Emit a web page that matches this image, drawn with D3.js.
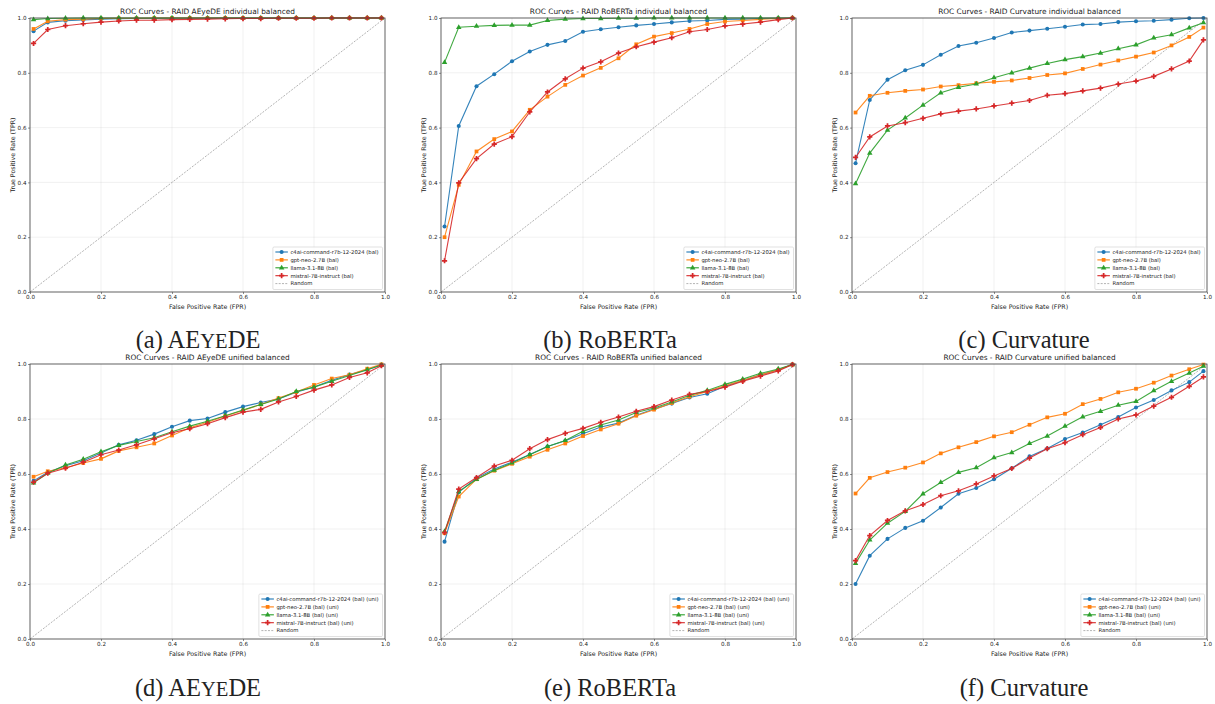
<!DOCTYPE html>
<html>
<head>
<meta charset="utf-8">
<script src="https://cdn.jsdelivr.net/npm/d3@7"></script>
<style>
  body { margin: 0; background: #fff; }
  svg text { font-family: "DejaVu Sans", sans-serif; fill: #222; }
</style>
</head>
<body>
<svg id="fig" width="1215" height="704"></svg>
<script>
// false positive rate grid shared by every curve
const fpr = [0.01, 0.05, 0.10, 0.15, 0.20, 0.25, 0.30, 0.35, 0.40, 0.45, 0.50,
             0.55, 0.60, 0.65, 0.70, 0.75, 0.80, 0.85, 0.90, 0.95, 0.99];

const modelNames = ["c4ai-command-r7b-12-2024", "gpt-neo-2.7B", "llama-3.1-8B", "mistral-7B-instruct"];
const tickValues = [0, 0.2, 0.4, 0.6, 0.8, 1.0];

// (a) AEyeDE individual
const aeyedeIndC4ai    = [0.952, 0.984, 0.990, 0.993, 0.996, 0.997, 0.998, 0.998, 0.999, 0.999, 0.999, 1, 1, 1, 1, 1, 1, 1, 1, 1, 1];
const aeyedeIndGptNeo  = [0.960, 0.988, 0.994, 0.996, 0.998, 0.999, 0.999, 1, 1, 1, 1, 1, 1, 1, 1, 1, 1, 1, 1, 1, 1];
const aeyedeIndLlama   = [0.994, 0.998, 0.999, 1, 1, 1, 1, 1, 1, 1, 1, 1, 1, 1, 1, 1, 1, 1, 1, 1, 1];
const aeyedeIndMistral = [0.907, 0.958, 0.972, 0.979, 0.985, 0.989, 0.992, 0.992, 0.994, 0.995, 0.996, 0.997, 0.998, 0.998, 0.999, 0.999, 0.999, 1, 1, 1, 1];

// (b) RoBERTa individual
const robertaIndC4ai    = [0.239, 0.606, 0.751, 0.795, 0.842, 0.878, 0.902, 0.916, 0.950, 0.959, 0.966, 0.973, 0.978, 0.984, 0.989, 0.991, 0.995, 0.996, 0.998, 0.999, 1];
const robertaIndGptNeo  = [0.200, 0.391, 0.513, 0.558, 0.586, 0.665, 0.713, 0.756, 0.790, 0.818, 0.853, 0.904, 0.932, 0.945, 0.960, 0.978, 0.987, 0.991, 0.995, 0.998, 1];
const robertaIndLlama   = [0.838, 0.966, 0.970, 0.973, 0.974, 0.974, 0.991, 0.996, 0.998, 0.998, 0.999, 0.999, 1, 1, 1, 1, 1, 1, 1, 1, 1];
const robertaIndMistral = [0.114, 0.398, 0.487, 0.540, 0.567, 0.657, 0.730, 0.778, 0.817, 0.840, 0.872, 0.895, 0.912, 0.928, 0.950, 0.958, 0.971, 0.978, 0.985, 0.994, 1];

// (c) Curvature individual
const curvIndC4ai    = [0.470, 0.701, 0.775, 0.809, 0.829, 0.866, 0.898, 0.910, 0.927, 0.947, 0.954, 0.961, 0.968, 0.976, 0.978, 0.985, 0.988, 0.990, 0.994, 0.999, 1];
const curvIndGptNeo  = [0.655, 0.716, 0.727, 0.734, 0.739, 0.750, 0.755, 0.762, 0.767, 0.772, 0.781, 0.792, 0.798, 0.814, 0.830, 0.845, 0.859, 0.874, 0.900, 0.931, 0.965];
const curvIndLlama   = [0.395, 0.507, 0.591, 0.635, 0.682, 0.727, 0.747, 0.759, 0.782, 0.800, 0.817, 0.834, 0.848, 0.859, 0.872, 0.888, 0.902, 0.927, 0.939, 0.964, 0.983];
const curvIndMistral = [0.491, 0.566, 0.606, 0.618, 0.634, 0.650, 0.660, 0.668, 0.679, 0.689, 0.699, 0.718, 0.724, 0.734, 0.744, 0.759, 0.770, 0.787, 0.814, 0.843, 0.920];

// (d) AEyeDE unified
const aeyedeUniC4ai    = [0.575, 0.606, 0.630, 0.648, 0.676, 0.706, 0.723, 0.745, 0.772, 0.794, 0.802, 0.825, 0.845, 0.860, 0.873, 0.897, 0.916, 0.941, 0.962, 0.979, 0.996];
const aeyedeUniGptNeo  = [0.590, 0.610, 0.623, 0.640, 0.655, 0.684, 0.697, 0.711, 0.740, 0.768, 0.788, 0.811, 0.831, 0.853, 0.876, 0.898, 0.924, 0.947, 0.961, 0.983, 0.999];
const aeyedeUniLlama   = [0.568, 0.603, 0.633, 0.654, 0.681, 0.704, 0.718, 0.732, 0.754, 0.774, 0.792, 0.812, 0.833, 0.853, 0.873, 0.900, 0.916, 0.937, 0.958, 0.979, 0.996];
const aeyedeUniMistral = [0.570, 0.603, 0.621, 0.643, 0.670, 0.687, 0.706, 0.728, 0.750, 0.765, 0.783, 0.805, 0.825, 0.835, 0.862, 0.882, 0.905, 0.924, 0.951, 0.968, 0.994];

// (e) RoBERTa unified
const robertaUniC4ai    = [0.354, 0.534, 0.585, 0.618, 0.643, 0.671, 0.700, 0.721, 0.746, 0.771, 0.785, 0.814, 0.836, 0.856, 0.878, 0.892, 0.919, 0.939, 0.961, 0.979, 0.998];
const robertaUniGptNeo  = [0.385, 0.518, 0.581, 0.612, 0.637, 0.663, 0.688, 0.711, 0.738, 0.762, 0.783, 0.812, 0.834, 0.858, 0.881, 0.900, 0.922, 0.940, 0.961, 0.979, 0.998];
const robertaUniLlama   = [0.391, 0.536, 0.580, 0.614, 0.640, 0.670, 0.700, 0.722, 0.755, 0.778, 0.796, 0.824, 0.840, 0.862, 0.886, 0.904, 0.926, 0.945, 0.966, 0.982, 0.998];
const robertaUniMistral = [0.387, 0.545, 0.587, 0.629, 0.650, 0.692, 0.725, 0.748, 0.766, 0.788, 0.807, 0.828, 0.845, 0.869, 0.890, 0.900, 0.916, 0.937, 0.956, 0.975, 0.998];

// (f) Curvature unified
const curvUniC4ai    = [0.200, 0.303, 0.364, 0.404, 0.430, 0.478, 0.528, 0.549, 0.581, 0.621, 0.664, 0.693, 0.727, 0.751, 0.779, 0.807, 0.842, 0.869, 0.904, 0.934, 0.974];
const curvUniGptNeo  = [0.529, 0.586, 0.607, 0.623, 0.642, 0.675, 0.697, 0.716, 0.737, 0.752, 0.779, 0.806, 0.819, 0.854, 0.873, 0.897, 0.910, 0.932, 0.958, 0.981, 0.998];
const curvUniLlama   = [0.275, 0.360, 0.421, 0.464, 0.528, 0.569, 0.606, 0.623, 0.659, 0.678, 0.711, 0.738, 0.774, 0.808, 0.828, 0.850, 0.864, 0.903, 0.937, 0.967, 0.992];
const curvUniMistral = [0.285, 0.376, 0.431, 0.466, 0.489, 0.521, 0.539, 0.564, 0.593, 0.620, 0.658, 0.692, 0.714, 0.743, 0.769, 0.800, 0.815, 0.847, 0.879, 0.919, 0.953];

const colors = ["#1f77b4", "#ff7f0e", "#2ca02c", "#d62728"];
const symbols = [d3.symbolCircle, d3.symbolSquare, d3.symbolTriangle, d3.symbolCross];
const symbolSizes = [13, 14, 13, 15];

// panel boxes: [left, right] per column, [top, bottom] per row
const cols = [[30, 385], [441, 796], [852, 1207]];
const rows = [[18, 292], [364, 639]];

const panels = [
  { title: "ROC Curves - RAID AEyeDE individual balanced", col: 0, row: 0, suffix: " (bal)",
    series: [aeyedeIndC4ai, aeyedeIndGptNeo, aeyedeIndLlama, aeyedeIndMistral],
    caption: [["(a) AE", 1], ["YE", 0.84], ["DE", 1]] },
  { title: "ROC Curves - RAID RoBERTa individual balanced", col: 1, row: 0, suffix: " (bal)",
    series: [robertaIndC4ai, robertaIndGptNeo, robertaIndLlama, robertaIndMistral],
    caption: [["(b) RoBERTa", 1]] },
  { title: "ROC Curves - RAID Curvature individual balanced", col: 2, row: 0, suffix: " (bal)",
    series: [curvIndC4ai, curvIndGptNeo, curvIndLlama, curvIndMistral],
    caption: [["(c) Curvature", 1]] },
  { title: "ROC Curves - RAID AEyeDE unified balanced", col: 0, row: 1, suffix: " (bal) (uni)",
    series: [aeyedeUniC4ai, aeyedeUniGptNeo, aeyedeUniLlama, aeyedeUniMistral],
    caption: [["(d) AE", 1], ["YE", 0.84], ["DE", 1]] },
  { title: "ROC Curves - RAID RoBERTa unified balanced", col: 1, row: 1, suffix: " (bal) (uni)",
    series: [robertaUniC4ai, robertaUniGptNeo, robertaUniLlama, robertaUniMistral],
    caption: [["(e) RoBERTa", 1]] },
  { title: "ROC Curves - RAID Curvature unified balanced", col: 2, row: 1, suffix: " (bal) (uni)",
    series: [curvUniC4ai, curvUniGptNeo, curvUniLlama, curvUniMistral],
    caption: [["(f) Curvature", 1]] }
];

const captionCenters = [198, 610, 1024];
const captionBaselines = [348, 696];
const captionSize = 24.5;

const svg = d3.select("#fig");

const drawPanel = (p) => {
  const [x0, x1] = cols[p.col];
  const [y0, y1] = rows[p.row];

  const x = d3.scaleLinear().domain([0, 1]).range([x0, x1]);
  const y = d3.scaleLinear().domain([0, 1]).range([y1, y0]);

  const g = svg.append("g");

  // grid
  g.selectAll(".gx").data(tickValues).enter().append("line")
    .attr("x1", d => x(d)).attr("x2", d => x(d))
    .attr("y1", y0).attr("y2", y1)
    .attr("stroke", "#b0b0b0").attr("stroke-opacity", 0.3).attr("stroke-width", 0.6);
  g.selectAll(".gy").data(tickValues).enter().append("line")
    .attr("x1", x0).attr("x2", x1)
    .attr("y1", d => y(d)).attr("y2", d => y(d))
    .attr("stroke", "#b0b0b0").attr("stroke-opacity", 0.3).attr("stroke-width", 0.6);

  // random classifier diagonal
  g.append("line")
    .attr("x1", x(0)).attr("y1", y(0)).attr("x2", x(1)).attr("y2", y(1))
    .attr("stroke", "#808080").attr("stroke-width", 0.6)
    .attr("stroke-dasharray", "2,1.3");

  const line = d3.line().x((d, i) => x(fpr[i])).y(d => y(d));

  p.series.forEach((vals, si) => {
    g.append("path")
      .datum(vals)
      .attr("d", line)
      .attr("fill", "none")
      .attr("stroke", colors[si])
      .attr("stroke-width", 1.1)
      .attr("stroke-opacity", 0.9);

    g.selectAll(".m" + si).data(vals).enter().append("path")
      .attr("d", d3.symbol().type(symbols[si]).size(symbolSizes[si]))
      .attr("transform", (d, i) => `translate(${x(fpr[i])},${y(d)})`)
      .attr("fill", colors[si]);
  });

  // frame
  g.append("rect")
    .attr("x", x0).attr("y", y0)
    .attr("width", x1 - x0).attr("height", y1 - y0)
    .attr("fill", "none").attr("stroke", "#444").attr("stroke-width", 0.8);

  // axes
  const xAxis = g.append("g")
    .attr("transform", `translate(0,${y1})`)
    .call(d3.axisBottom(x).tickValues(tickValues).tickFormat(d3.format(".1f")).tickSize(2).tickPadding(1));
  const yAxis = g.append("g")
    .attr("transform", `translate(${x0},0)`)
    .call(d3.axisLeft(y).tickValues(tickValues).tickFormat(d3.format(".1f")).tickSize(2).tickPadding(1.5));
  [xAxis, yAxis].forEach(a => {
    a.select(".domain").remove();
    a.selectAll(".tick line").attr("stroke", "#444").attr("stroke-width", 0.6);
    a.selectAll(".tick text").attr("font-size", "5.6px").attr("fill", "#222")
      .style("font-family", "DejaVu Sans");
  });

  // title and axis labels
  g.append("text")
    .attr("x", (x0 + x1) / 2).attr("y", y0 - 4)
    .attr("text-anchor", "middle").attr("font-size", "7.4px")
    .text(p.title);
  g.append("text")
    .attr("x", (x0 + x1) / 2).attr("y", y1 + 17)
    .attr("text-anchor", "middle").attr("font-size", "6.3px")
    .text("False Positive Rate (FPR)");
  g.append("text")
    .attr("transform", `translate(${x0 - 15},${(y0 + y1) / 2}) rotate(-90)`)
    .attr("text-anchor", "middle").attr("font-size", "6.3px")
    .text("True Positive Rate (TPR)");

  // legend, anchored lower right
  const entries = modelNames.map((m, i) => ({ label: m + p.suffix, i }))
    .concat([{ label: "Random", i: -1 }]);
  const rowH = 7.9;
  const boxH = entries.length * rowH + 3;
  const leg = g.append("g");
  const texts = leg.selectAll("text").data(entries).enter().append("text")
    .attr("font-size", "5.3px")
    .attr("x", 17.5)
    .attr("y", (d, k) => 6.8 + k * rowH)
    .text(d => d.label);
  let maxW = 0;
  texts.each(function () { maxW = Math.max(maxW, this.getComputedTextLength()); });
  const boxW = 17.5 + maxW + 4;
  leg.insert("rect", "text")
    .attr("x", 0).attr("y", 0).attr("width", boxW).attr("height", boxH)
    .attr("rx", 1.2)
    .attr("fill", "#fff").attr("fill-opacity", 0.8)
    .attr("stroke", "#ccc").attr("stroke-width", 0.6);
  entries.forEach((d, k) => {
    const cy = 5 + k * rowH;
    if (d.i >= 0) {
      leg.append("line").attr("x1", 2.5).attr("x2", 15).attr("y1", cy).attr("y2", cy)
        .attr("stroke", colors[d.i]).attr("stroke-width", 1.1);
      leg.append("path")
        .attr("d", d3.symbol().type(symbols[d.i]).size(symbolSizes[d.i]))
        .attr("transform", `translate(8.75,${cy})`)
        .attr("fill", colors[d.i]);
    } else {
      leg.append("line").attr("x1", 2.5).attr("x2", 15).attr("y1", cy).attr("y2", cy)
        .attr("stroke", "#808080").attr("stroke-width", 0.6).attr("stroke-dasharray", "2,1.3");
    }
  });
  leg.attr("transform", `translate(${x1 - 2.5 - boxW},${y1 - 2.5 - boxH})`);

  // subfigure caption
  const cap = svg.append("text")
    .attr("x", captionCenters[p.col]).attr("y", captionBaselines[p.row])
    .attr("text-anchor", "middle")
    .style("font-family", "'Liberation Serif', 'Times New Roman', serif")
    .attr("font-size", captionSize + "px").attr("fill", "#111");
  p.caption.forEach(([t, s]) => {
    cap.append("tspan").attr("font-size", (captionSize * s) + "px").text(t);
  });
};

panels.forEach(drawPanel);
</script>
</body>
</html>
